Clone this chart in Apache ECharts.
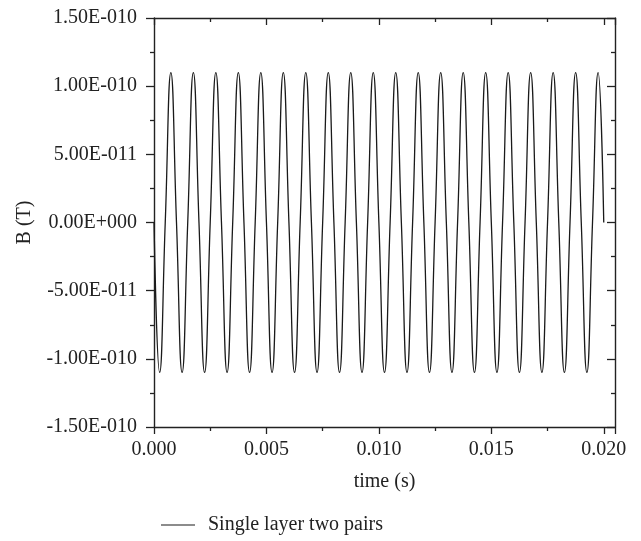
<!DOCTYPE html>
<html>
<head>
<meta charset="utf-8">
<script src="https://cdn.jsdelivr.net/npm/echarts/dist/echarts.min.js"></script>
<style>
html,body{margin:0;padding:0;background:#fff;}
#chart{width:641px;height:541px;}
</style>
</head>
<body>
<div id="chart"></div>
<script>
// Sample times (s): peaks, troughs and zero crossings
var times = [
  0, 0.00025, 0.0005, 0.00075, 0.001, 0.00125, 0.0015, 0.00175,
  0.002, 0.00225, 0.0025, 0.00275, 0.003, 0.00325, 0.0035, 0.00375,
  0.004, 0.00425, 0.0045, 0.00475, 0.005, 0.00525, 0.0055, 0.00575,
  0.006, 0.00625, 0.0065, 0.00675, 0.007, 0.00725, 0.0075, 0.00775,
  0.008, 0.00825, 0.0085, 0.00875, 0.009, 0.00925, 0.0095, 0.00975,
  0.010, 0.01025, 0.0105, 0.01075, 0.011, 0.01125, 0.0115, 0.01175,
  0.012, 0.01225, 0.0125, 0.01275, 0.013, 0.01325, 0.0135, 0.01375,
  0.014, 0.01425, 0.0145, 0.01475, 0.015, 0.01525, 0.0155, 0.01575,
  0.016, 0.01625, 0.0165, 0.01675, 0.017, 0.01725, 0.0175, 0.01775,
  0.018, 0.01825, 0.0185, 0.01875, 0.019, 0.01925, 0.0195, 0.01975,
  0.020
];
// B (T) at those times
var bValues = [
  0, -1.1e-10, 0, 1.1e-10, 0, -1.1e-10, 0, 1.1e-10,
  0, -1.1e-10, 0, 1.1e-10, 0, -1.1e-10, 0, 1.1e-10,
  0, -1.1e-10, 0, 1.1e-10, 0, -1.1e-10, 0, 1.1e-10,
  0, -1.1e-10, 0, 1.1e-10, 0, -1.1e-10, 0, 1.1e-10,
  0, -1.1e-10, 0, 1.1e-10, 0, -1.1e-10, 0, 1.1e-10,
  0, -1.1e-10, 0, 1.1e-10, 0, -1.1e-10, 0, 1.1e-10,
  0, -1.1e-10, 0, 1.1e-10, 0, -1.1e-10, 0, 1.1e-10,
  0, -1.1e-10, 0, 1.1e-10, 0, -1.1e-10, 0, 1.1e-10,
  0, -1.1e-10, 0, 1.1e-10, 0, -1.1e-10, 0, 1.1e-10,
  0, -1.1e-10, 0, 1.1e-10, 0, -1.1e-10, 0, 1.1e-10,
  0
];
var seriesName = 'Single layer two pairs';
var xTickLabels = ['0.000', '0.005', '0.010', '0.015', '0.020'];
var yTickLabels = ['-1.50E-010', '-1.00E-010', '-5.00E-011', '0.00E+000', '5.00E-011', '1.00E-010', '1.50E-010'];

var FONT = '"Liberation Serif", "DejaVu Serif", serif';
var INK = '#222';

function fmtX(v) {
  var idx = Math.round(v / 0.005);
  if (Math.abs(v - idx * 0.005) > 1e-9) return '';
  return xTickLabels[idx] || '';
}
function fmtY(v) {
  var idx = Math.round(v / 5e-11) + 3;
  if (Math.abs(v - (idx - 3) * 5e-11) > 1e-15) return '';
  return yTickLabels[idx] || '';
}

var chart = echarts.init(document.getElementById('chart'), null, {renderer: 'canvas'});
var axisLine = {show: true, onZero: false, lineStyle: {color: INK, width: 1.4}};
var tickStyle = {color: INK, width: 1.3};
chart.setOption({
  animation: false,
  backgroundColor: '#fff',
  grid: {left: 154, right: 26, top: 18, bottom: 114, containLabel: false},
  legend: {
    data: [seriesName],
    left: 156, top: 510,
    icon: 'rect',
    itemWidth: 34, itemHeight: 1.2,
    textStyle: {fontFamily: FONT, fontSize: 20, color: INK, padding: [0, 0, 0, 8]}
  },
  xAxis: [{
    type: 'value', min: 0, max: 0.0205, interval: 0.005,
    name: 'time (s)', nameLocation: 'middle', nameGap: 45,
    nameTextStyle: {fontFamily: FONT, fontSize: 20, color: INK},
    axisLine: axisLine,
    axisTick: {show: true, inside: false, length: 7, lineStyle: tickStyle},
    minorTick: {show: true, splitNumber: 2, length: 4, lineStyle: tickStyle},
    axisLabel: {fontFamily: FONT, fontSize: 20, color: INK, margin: 13, formatter: fmtX, showMaxLabel: false},
    splitLine: {show: false}
  }, {
    type: 'value', position: 'top', min: 0, max: 0.0205, interval: 0.005,
    axisLine: axisLine,
    axisTick: {show: true, inside: true, length: 7, lineStyle: tickStyle},
    minorTick: {show: true, splitNumber: 2, length: 4, lineStyle: tickStyle},
    axisLabel: {show: false},
    splitLine: {show: false}
  }],
  yAxis: [{
    type: 'value', min: -1.5e-10, max: 1.5e-10, interval: 5e-11,
    name: 'B (T)', nameLocation: 'middle', nameGap: 119,
    nameTextStyle: {fontFamily: FONT, fontSize: 20, color: INK},
    axisLine: axisLine,
    axisTick: {show: true, inside: false, length: 8, lineStyle: tickStyle},
    minorTick: {show: true, splitNumber: 2, length: 4, lineStyle: tickStyle},
    axisLabel: {fontFamily: FONT, fontSize: 20, color: INK, margin: 17, formatter: fmtY},
    splitLine: {show: false}
  }, {
    type: 'value', position: 'right', min: -1.5e-10, max: 1.5e-10, interval: 5e-11,
    axisLine: axisLine,
    axisTick: {show: true, inside: true, length: 8, lineStyle: tickStyle},
    minorTick: {show: true, splitNumber: 2, length: 4, lineStyle: tickStyle},
    axisLabel: {show: false},
    splitLine: {show: false}
  }],
  series: [{
    name: seriesName,
    type: 'line',
    xAxisIndex: 0, yAxisIndex: 0,
    data: times.map(function (t, i) { return [t, bValues[i]]; }),
    smooth: 0.5,
    symbol: 'none',
    lineStyle: {color: '#1a1a1a', width: 1.3},
    itemStyle: {color: '#1a1a1a'}
  }]
});
</script>
</body>
</html>
